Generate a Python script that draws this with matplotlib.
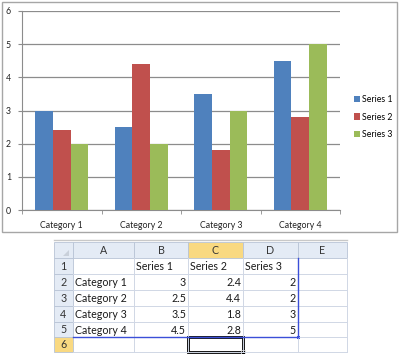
import matplotlib
matplotlib.use("Agg")
import numpy as np
import matplotlib.pyplot as plt
from matplotlib.patches import Rectangle, Polygon

plt.rcParams['font.family'] = ['Lato', 'DejaVu Sans']

categories = ['Category 1', 'Category 2', 'Category 3', 'Category 4']
series_names = ['Series 1', 'Series 2', 'Series 3']
series1 = [3, 2.5, 3.5, 4.5]
series2 = [2.4, 4.4, 1.8, 2.8]
series3 = [2, 2, 3, 5]
colors = ['#4F81BD', '#C0504D', '#9BBB59']

W, H = 400, 354
fig = plt.figure(figsize=(W / 100, H / 100), dpi=100)


def px(x0, y0, x1, y1):
    # pixel box (top-left origin) -> figure fraction rect
    return (x0 / W, 1 - y1 / H, (x1 - x0) / W, (y1 - y0) / H)


# chart outer frame
fig.patches.append(Rectangle((2 / W, 1 - 232 / H), 395 / W, 230 / H,
                             transform=fig.transFigure, fill=False,
                             edgecolor='#a6a6a6', linewidth=1))

ax = fig.add_axes(px(22, 11, 340, 210))
x = np.arange(len(categories))
w = 1 / 4.5
for i, (vals, name) in enumerate(zip([series1, series2, series3], series_names)):
    ax.bar(x + (i - 1) * w, vals, w, color=colors[i], label=name, zorder=3)

ax.set_xlim(-0.5, len(categories) - 0.5)
ax.set_ylim(0, 6)
ax.set_yticks(range(7))
ax.yaxis.grid(True, color='#8c8c8c', linewidth=0.9)
ax.set_axisbelow(True)
for s in ['top', 'right']:
    ax.spines[s].set_visible(False)
for s in ['left', 'bottom']:
    ax.spines[s].set_color('#8c8c8c')
ax.set_xticks(x)
ax.set_xticklabels(categories)
ax.set_xticks(np.arange(-0.5, len(categories)), minor=True)
ax.tick_params(axis='x', which='major', length=0, labelsize=6.3, pad=8,
               labelcolor='#222222')
ax.tick_params(axis='x', which='minor', length=3, color='#8c8c8c')
ax.tick_params(axis='y', length=3, color='#8c8c8c', labelsize=6.3, pad=5,
               labelcolor='#222222')

ax.legend(loc='center left', bbox_to_anchor=(346 / W, 1 - 117 / H),
          bbox_transform=fig.transFigure, frameon=False, fontsize=6.3,
          handlelength=0.7, handleheight=0.7, handletextpad=0.25,
          labelspacing=1.0)

# spreadsheet below the chart
tax = fig.add_axes((0, 0, 1, 1), zorder=-1)
tax.set_xlim(0, W)
tax.set_ylim(H, 0)
tax.axis('off')

col_edges = [54, 73, 134, 188, 243, 298, 347]
row_edges = [242, 258, 274, 290, 306, 322, 337, 352]
col_letters = ['A', 'B', 'C', 'D', 'E']
head_bg = '#e4ebf5'
sel_bg = '#f9d981'
grid_c = '#d0d7e5'
txt_c = '#1a1a1a'
fs = 7.7

tax.plot([col_edges[0], col_edges[-1]], [240, 240], color='#c8c8c8', lw=1)

# column headers
tax.add_patch(Rectangle((col_edges[0], row_edges[0]), col_edges[1] - col_edges[0],
                        row_edges[1] - row_edges[0], facecolor=head_bg,
                        edgecolor='#b8c4d6', lw=0.6))
tax.add_patch(Polygon([[69, 250], [69, 256], [63, 256]], closed=True,
                      facecolor='#c9d0da', edgecolor='none'))
for j, letter in enumerate(col_letters):
    x0, x1 = col_edges[j + 1], col_edges[j + 2]
    bg = sel_bg if letter == 'C' else head_bg
    tax.add_patch(Rectangle((x0, row_edges[0]), x1 - x0, row_edges[1] - row_edges[0],
                            facecolor=bg, edgecolor='#b8c4d6', lw=0.6))
    tax.text((x0 + x1) / 2, (row_edges[0] + row_edges[1]) / 2, letter,
             ha='center', va='center', fontsize=fs, color='#333333')

# row headers
for r in range(6):
    y0, y1 = row_edges[r + 1], row_edges[r + 2]
    bg = sel_bg if r == 5 else head_bg
    tax.add_patch(Rectangle((col_edges[0], y0), col_edges[1] - col_edges[0], y1 - y0,
                            facecolor=bg, edgecolor='#b8c4d6', lw=0.6))
    tax.text((col_edges[0] + col_edges[1]) / 2, (y0 + y1) / 2, str(r + 1),
             ha='center', va='center', fontsize=fs, color='#333333')

# cell grid
for xe in col_edges[2:]:
    tax.plot([xe, xe], [row_edges[1], row_edges[-1]], color=grid_c, lw=0.7)
for ye in row_edges[2:]:
    tax.plot([col_edges[1], col_edges[-1]], [ye, ye], color=grid_c, lw=0.7)

# cell contents
def cell_mid(r):
    return (row_edges[r + 1] + row_edges[r + 2]) / 2 + 0.5

for j, name in enumerate(series_names):
    tax.text(col_edges[j + 2] + 2, cell_mid(0), name, ha='left', va='center',
             fontsize=fs, color=txt_c)
table_vals = [series1, series2, series3]
for i, cat in enumerate(categories):
    tax.text(col_edges[1] + 2, cell_mid(i + 1), cat, ha='left', va='center',
             fontsize=fs, color=txt_c)
    for j, vals in enumerate(table_vals):
        tax.text(col_edges[j + 3] - 2, cell_mid(i + 1), f'{vals[i]:g}',
                 ha='right', va='center', fontsize=fs, color=txt_c)

# blue data-range outline (columns A-D, rows 1-5)
blue = '#3b4fd8'
tax.plot([col_edges[5], col_edges[5]], [row_edges[1], row_edges[6]],
         color=blue, lw=1)
tax.plot([col_edges[1], col_edges[5]], [row_edges[6], row_edges[6]],
         color=blue, lw=1)
tax.add_patch(Rectangle((col_edges[5] - 1.5, row_edges[6] - 1.5), 3, 3,
                        facecolor=blue, edgecolor='none'))

# selected cell C6
tax.add_patch(Rectangle((col_edges[3], row_edges[6]), col_edges[4] - col_edges[3],
                        row_edges[7] - row_edges[6], fill=False,
                        edgecolor='black', lw=2))
tax.add_patch(Rectangle((col_edges[4] - 2, row_edges[7] - 2), 4, 4,
                        facecolor='black', edgecolor='white', lw=0.5))

fig.savefig('out.png', dpi=100)
